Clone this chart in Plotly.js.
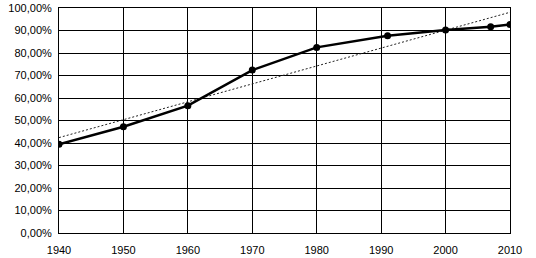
<!DOCTYPE html>
<html>
<head>
<meta charset="utf-8">
<script src="https://cdn.plot.ly/plotly-3.0.1.min.js"></script>
<style>html,body{margin:0;padding:0;background:#fff;}#chart{width:536px;height:258px;}</style>
</head>
<body>
<div id="chart"></div>
<script>
var years = [1940, 1950, 1960, 1970, 1980, 1991, 2000, 2007, 2010];
var values = [39.4, 47.2, 56.6, 72.4, 82.5, 87.7, 90.2, 91.7, 92.7];
var trendYears = [1940, 2010];
var trendValues = [42.4, 98.1];
var yTickVals = [0, 10, 20, 30, 40, 50, 60, 70, 80, 90, 100];
var yTickText = ["0,00%", "10,00%", "20,00%", "30,00%", "40,00%", "50,00%", "60,00%", "70,00%", "80,00%", "90,00%", "100,00%"];
var xTickVals = [1940, 1950, 1960, 1970, 1980, 1990, 2000, 2010];

var traces = [
  {x: trendYears, y: trendValues, mode: 'lines', type: 'scatter',
   line: {color: '#222222', width: 1, dash: '2px,2px'}, hoverinfo: 'skip'},
  {x: years, y: values, mode: 'lines+markers', type: 'scatter',
   line: {color: '#000000', width: 2.5}, marker: {color: '#000000', size: 7}}
];
var layout = {
  width: 536, height: 258,
  margin: {l: 59, r: 26, t: 8, b: 25, pad: 0},
  paper_bgcolor: '#ffffff', plot_bgcolor: '#ffffff',
  showlegend: false,
  font: {family: 'Liberation Sans, Arial, sans-serif', size: 11, color: '#000000'},
  xaxis: {range: [1940, 2010], tickvals: xTickVals, ticktext: xTickVals.map(String),
    showgrid: true, gridcolor: '#000000', gridwidth: 1, zeroline: false,
    showline: true, linecolor: '#000000', linewidth: 1, mirror: true,
    ticks: '', ticklabelstandoff: 7, fixedrange: true},
  yaxis: {range: [0, 100], tickvals: yTickVals, ticktext: yTickText,
    showgrid: true, gridcolor: '#000000', gridwidth: 1, zeroline: false,
    showline: true, linecolor: '#000000', linewidth: 1, mirror: true,
    ticks: '', ticklabelstandoff: 4, fixedrange: true}
};
Plotly.newPlot('chart', traces, layout, {displayModeBar: false, staticPlot: true});
</script>
</body>
</html>
